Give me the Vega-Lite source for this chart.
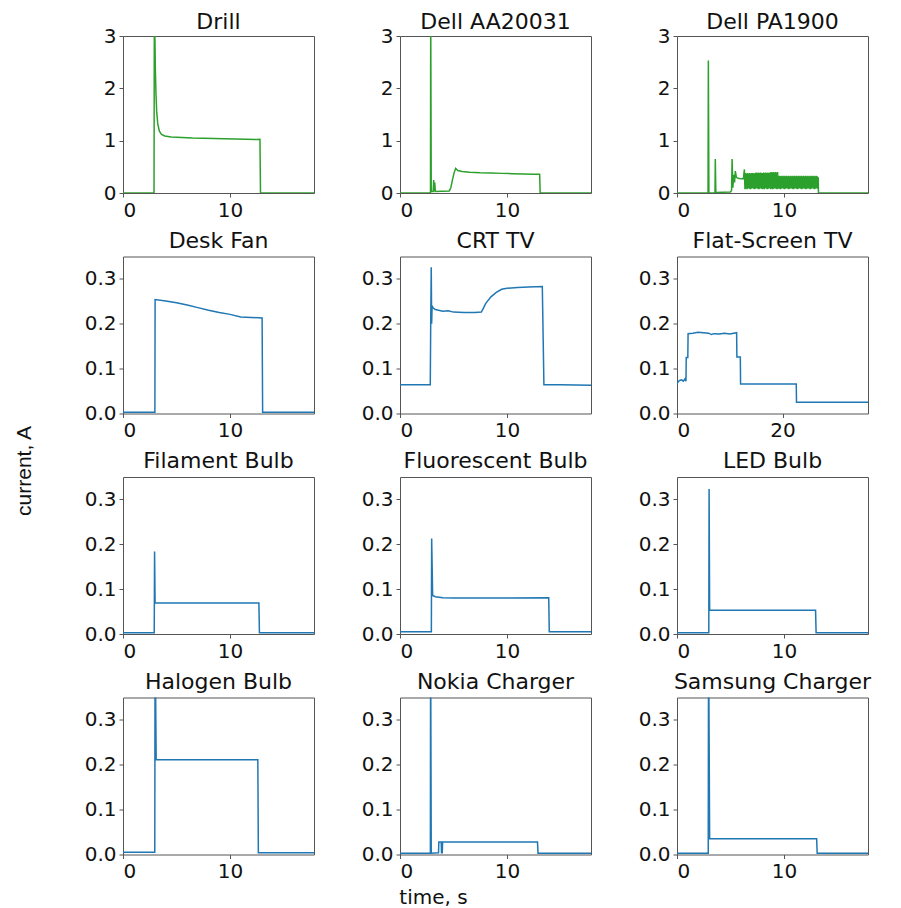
{
  "$schema": "https://vega.github.io/schema/vega-lite/v6.json",
  "padding": {"left": 12, "top": 10, "right": 0, "bottom": 3},
  "background": "white",
  "config": {
    "font": "DejaVu Sans",
    "view": {"stroke": "#555", "strokeWidth": 1},
    "title": {"font": "DejaVu Sans", "fontSize": 22, "fontWeight": "normal", "color": "#111", "offset": 0},
    "axis": {"grid": false, "domain": false, "labelFont": "DejaVu Sans", "labelFontSize": 20, "labelColor": "#111", "tickColor": "#555", "tickSize": 4, "labelPadding": 3, "titleFont": "DejaVu Sans", "titleFontWeight": "normal", "titleColor": "#111"}
  },
  "datasets": {
    "drill": [{"t":0,"i":0},{"t":2.9,"i":0},{"t":2.93,"i":3.6},{"t":2.98,"i":3.0},{"t":3.02,"i":2.4},{"t":3.08,"i":1.9},{"t":3.15,"i":1.55},{"t":3.25,"i":1.32},{"t":3.4,"i":1.18},{"t":3.6,"i":1.12},{"t":3.9,"i":1.09},{"t":4.5,"i":1.07},{"t":5.5,"i":1.06},{"t":6.5,"i":1.05},{"t":7.5,"i":1.045},{"t":8.5,"i":1.04},{"t":9.5,"i":1.035},{"t":10.5,"i":1.03},{"t":11.5,"i":1.025},{"t":12.5,"i":1.02},{"t":12.8,"i":1.025},{"t":12.85,"i":0},{"t":17.85,"i":0}],
    "dellaa": [{"t":0,"i":0},{"t":2.85,"i":0},{"t":2.87,"i":3.5},{"t":2.92,"i":0.03},{"t":3.1,"i":0.03},{"t":3.15,"i":0.25},{"t":3.2,"i":0.03},{"t":3.25,"i":0.2},{"t":3.3,"i":0.03},{"t":4.6,"i":0.04},{"t":4.75,"i":0.1},{"t":4.9,"i":0.25},{"t":5.05,"i":0.38},{"t":5.2,"i":0.47},{"t":5.4,"i":0.43},{"t":5.8,"i":0.41},{"t":6.5,"i":0.395},{"t":7.5,"i":0.385},{"t":8.5,"i":0.38},{"t":9.5,"i":0.375},{"t":10.5,"i":0.37},{"t":11.5,"i":0.365},{"t":12.5,"i":0.36},{"t":13.05,"i":0.36},{"t":13.1,"i":0},{"t":17.85,"i":0}],
    "dellpa": [{"t":0,"i":0},{"t":2.9,"i":0},{"t":2.93,"i":2.53},{"t":2.98,"i":0},{"t":3.55,"i":0},{"t":3.58,"i":0.65},{"t":3.63,"i":0.01},{"t":5.0,"i":0.02},{"t":5.1,"i":0.05},{"t":5.15,"i":0.65},{"t":5.22,"i":0.1},{"t":5.3,"i":0.35},{"t":5.38,"i":0.2},{"t":5.45,"i":0.42},{"t":5.55,"i":0.3},{"t":5.7,"i":0.28},{"t":6.0,"i":0.27},{"t":6.2,"i":0.27},{"t":6.3,"i":0.45},
      {"t":6.35,"i":0.07},{"t":6.4,"i":0.38},{"t":6.45,"i":0.08},{"t":6.5,"i":0.37},{"t":6.55,"i":0.07},{"t":6.6,"i":0.38},{"t":6.65,"i":0.09},{"t":6.7,"i":0.37},{"t":6.75,"i":0.08},{"t":6.8,"i":0.38},{"t":6.85,"i":0.07},{"t":6.9,"i":0.37},{"t":6.95,"i":0.08},{"t":7.0,"i":0.38},{"t":7.05,"i":0.09},{"t":7.1,"i":0.38},{"t":7.15,"i":0.08},{"t":7.2,"i":0.37},{"t":7.25,"i":0.07},{"t":7.3,"i":0.38},{"t":7.35,"i":0.08},{"t":7.4,"i":0.39},{"t":7.45,"i":0.09},{"t":7.5,"i":0.38},{"t":7.55,"i":0.08},{"t":7.6,"i":0.39},{"t":7.65,"i":0.07},{"t":7.7,"i":0.38},{"t":7.75,"i":0.08},{"t":7.8,"i":0.39},{"t":7.85,"i":0.09},{"t":7.9,"i":0.38},{"t":7.95,"i":0.07},{"t":8.0,"i":0.38},{"t":8.05,"i":0.08},{"t":8.1,"i":0.39},{"t":8.15,"i":0.07},{"t":8.2,"i":0.38},{"t":8.25,"i":0.09},{"t":8.3,"i":0.39},{"t":8.35,"i":0.08},{"t":8.4,"i":0.38},{"t":8.45,"i":0.07},{"t":8.5,"i":0.39},{"t":8.55,"i":0.08},{"t":8.6,"i":0.38},{"t":8.65,"i":0.09},{"t":8.7,"i":0.39},{"t":8.75,"i":0.07},{"t":8.8,"i":0.4},{"t":8.85,"i":0.08},{"t":8.9,"i":0.39},{"t":8.95,"i":0.07},{"t":9.0,"i":0.4},{"t":9.05,"i":0.08},{"t":9.1,"i":0.39},{"t":9.15,"i":0.09},{"t":9.2,"i":0.4},{"t":9.25,"i":0.08},{"t":9.3,"i":0.39},{"t":9.35,"i":0.07},{"t":9.4,"i":0.4},{"t":9.45,"i":0.08},
      {"t":9.5,"i":0.33},{"t":9.55,"i":0.08},{"t":9.6,"i":0.33},{"t":9.65,"i":0.07},{"t":9.7,"i":0.32},{"t":9.75,"i":0.08},{"t":9.8,"i":0.33},{"t":9.85,"i":0.09},{"t":9.9,"i":0.32},{"t":9.95,"i":0.08},{"t":10.0,"i":0.33},{"t":10.05,"i":0.07},{"t":10.1,"i":0.32},{"t":10.15,"i":0.08},{"t":10.2,"i":0.33},{"t":10.25,"i":0.09},{"t":10.3,"i":0.32},{"t":10.35,"i":0.08},{"t":10.4,"i":0.33},{"t":10.45,"i":0.07},{"t":10.5,"i":0.32},{"t":10.55,"i":0.08},{"t":10.6,"i":0.33},{"t":10.65,"i":0.09},{"t":10.7,"i":0.32},{"t":10.75,"i":0.08},{"t":10.8,"i":0.33},{"t":10.85,"i":0.07},{"t":10.9,"i":0.32},{"t":10.95,"i":0.08},{"t":11.0,"i":0.33},{"t":11.05,"i":0.09},{"t":11.1,"i":0.32},{"t":11.15,"i":0.08},{"t":11.2,"i":0.33},{"t":11.25,"i":0.07},{"t":11.3,"i":0.32},{"t":11.35,"i":0.08},{"t":11.4,"i":0.33},{"t":11.45,"i":0.09},{"t":11.5,"i":0.32},{"t":11.55,"i":0.08},{"t":11.6,"i":0.33},{"t":11.65,"i":0.07},{"t":11.7,"i":0.32},{"t":11.75,"i":0.08},{"t":11.8,"i":0.33},{"t":11.85,"i":0.09},{"t":11.9,"i":0.32},{"t":11.95,"i":0.08},{"t":12.0,"i":0.33},{"t":12.05,"i":0.07},{"t":12.1,"i":0.32},{"t":12.15,"i":0.08},{"t":12.2,"i":0.33},{"t":12.25,"i":0.09},{"t":12.3,"i":0.32},{"t":12.35,"i":0.08},{"t":12.4,"i":0.33},{"t":12.45,"i":0.07},{"t":12.5,"i":0.32},{"t":12.55,"i":0.08},{"t":12.6,"i":0.33},{"t":12.65,"i":0.09},{"t":12.7,"i":0.32},{"t":12.75,"i":0.08},{"t":12.8,"i":0.33},{"t":12.85,"i":0.07},{"t":12.9,"i":0.32},{"t":12.95,"i":0.08},{"t":13.0,"i":0.33},{"t":13.05,"i":0.09},{"t":13.1,"i":0.32},{"t":13.15,"i":0.08},{"t":13.2,"i":0.3},{"t":13.22,"i":0},{"t":17.85,"i":0}],
    "fan": [{"t":0,"i":0.003},{"t":2.98,"i":0.003},{"t":3.0,"i":0.254},{"t":4,"i":0.251},{"t":5,"i":0.247},{"t":6,"i":0.242},{"t":7,"i":0.236},{"t":8,"i":0.23},{"t":9,"i":0.225},{"t":10,"i":0.221},{"t":11,"i":0.215},{"t":12,"i":0.214},{"t":13.0,"i":0.213},{"t":13.05,"i":0.003},{"t":17.85,"i":0.003}],
    "crt": [{"t":0,"i":0.064},{"t":2.83,"i":0.064},{"t":2.87,"i":0.2},{"t":2.92,"i":0.326},{"t":2.96,"i":0.2},{"t":3.0,"i":0.24},{"t":3.1,"i":0.235},{"t":3.3,"i":0.232},{"t":4,"i":0.228},{"t":4.5,"i":0.229},{"t":5,"i":0.226},{"t":6,"i":0.225},{"t":7,"i":0.225},{"t":7.6,"i":0.226},{"t":7.8,"i":0.235},{"t":8.0,"i":0.245},{"t":8.5,"i":0.26},{"t":9,"i":0.27},{"t":9.5,"i":0.277},{"t":10,"i":0.279},{"t":11,"i":0.281},{"t":12,"i":0.282},{"t":13.3,"i":0.283},{"t":13.45,"i":0.064},{"t":15,"i":0.064},{"t":17.85,"i":0.063}],
    "flat": [{"t":0,"i":0.066},{"t":0.3,"i":0.072},{"t":0.6,"i":0.074},{"t":0.9,"i":0.075},{"t":1.2,"i":0.072},{"t":1.5,"i":0.077},{"t":1.7,"i":0.072},{"t":1.75,"i":0.125},{"t":2.05,"i":0.125},{"t":2.1,"i":0.178},{"t":3,"i":0.179},{"t":4,"i":0.181},{"t":5,"i":0.18},{"t":6,"i":0.179},{"t":6.5,"i":0.176},{"t":7,"i":0.178},{"t":8,"i":0.177},{"t":9,"i":0.179},{"t":10,"i":0.177},{"t":11.3,"i":0.18},{"t":11.35,"i":0.126},{"t":12.0,"i":0.126},{"t":12.05,"i":0.066},{"t":22.6,"i":0.066},{"t":22.65,"i":0.025},{"t":36.2,"i":0.025}],
    "filament": [{"t":0,"i":0.003},{"t":2.92,"i":0.003},{"t":2.95,"i":0.184},{"t":3.0,"i":0.069},{"t":12.7,"i":0.069},{"t":12.75,"i":0.003},{"t":17.85,"i":0.003}],
    "fluor": [{"t":0,"i":0.005},{"t":2.93,"i":0.005},{"t":2.96,"i":0.213},{"t":3.05,"i":0.086},{"t":3.3,"i":0.083},{"t":4,"i":0.081},{"t":5,"i":0.08},{"t":8,"i":0.08},{"t":13.9,"i":0.081},{"t":13.95,"i":0.005},{"t":17.85,"i":0.005}],
    "led": [{"t":0,"i":0.003},{"t":2.97,"i":0.003},{"t":3.0,"i":0.323},{"t":3.05,"i":0.053},{"t":12.95,"i":0.053},{"t":13.0,"i":0.003},{"t":17.85,"i":0.003}],
    "halogen": [{"t":0,"i":0.005},{"t":2.97,"i":0.005},{"t":3.0,"i":0.5},{"t":3.1,"i":0.212},{"t":12.6,"i":0.211},{"t":12.65,"i":0.004},{"t":17.85,"i":0.004}],
    "nokia": [{"t":0,"i":0.003},{"t":2.84,"i":0.003},{"t":2.86,"i":0.5},{"t":2.92,"i":0.003},{"t":3.6,"i":0.004},{"t":3.63,"i":0.028},{"t":3.85,"i":0.028},{"t":3.88,"i":0.004},{"t":3.95,"i":0.004},{"t":3.98,"i":0.028},{"t":12.85,"i":0.028},{"t":12.9,"i":0.003},{"t":17.85,"i":0.003}],
    "samsung": [{"t":0,"i":0.003},{"t":2.92,"i":0.003},{"t":2.95,"i":0.5},{"t":3.05,"i":0.035},{"t":13.05,"i":0.035},{"t":13.1,"i":0.003},{"t":17.85,"i":0.003}]
  },
  "columns": 3,
  "spacing": {"row": 63.5, "column": 86},
  "bounds": "flush",
  "concat": [
    {"title": {"text": "Drill", "offset": -8}, "width": 191, "height": 157, "data": {"name": "drill"}, "mark": {"type": "line", "color": "#2ca02c", "strokeWidth": 1.5, "clip": true},
     "encoding": {"x": {"field": "t", "type": "quantitative", "scale": {"domain": [0, 17.85], "nice": false, "zero": false}, "axis": {"values": [0, 10], "title": null}},
                  "y": {"field": "i", "type": "quantitative", "scale": {"domain": [0, 3], "nice": false}, "axis": {"values": [0, 1, 2, 3], "format": "d", "title": null}}}},
    {"title": {"text": "Dell AA20031", "offset": -8}, "width": 191, "height": 157, "data": {"name": "dellaa"}, "mark": {"type": "line", "color": "#2ca02c", "strokeWidth": 1.5, "clip": true},
     "encoding": {"x": {"field": "t", "type": "quantitative", "scale": {"domain": [0, 17.85], "nice": false, "zero": false}, "axis": {"values": [0, 10], "title": null}},
                  "y": {"field": "i", "type": "quantitative", "scale": {"domain": [0, 3], "nice": false}, "axis": {"values": [0, 1, 2, 3], "format": "d", "title": null}}}},
    {"title": {"text": "Dell PA1900", "offset": -8}, "width": 191, "height": 157, "data": {"name": "dellpa"}, "mark": {"type": "line", "color": "#2ca02c", "strokeWidth": 1.5, "clip": true},
     "encoding": {"x": {"field": "t", "type": "quantitative", "scale": {"domain": [0, 17.85], "nice": false, "zero": false}, "axis": {"values": [0, 10], "title": null}},
                  "y": {"field": "i", "type": "quantitative", "scale": {"domain": [0, 3], "nice": false}, "axis": {"values": [0, 1, 2, 3], "format": "d", "title": null}}}},
    {"title": "Desk Fan", "width": 191, "height": 157, "data": {"name": "fan"}, "mark": {"type": "line", "color": "#1f77b4", "strokeWidth": 1.5, "clip": true},
     "encoding": {"x": {"field": "t", "type": "quantitative", "scale": {"domain": [0, 17.85], "nice": false, "zero": false}, "axis": {"values": [0, 10], "title": null}},
                  "y": {"field": "i", "type": "quantitative", "scale": {"domain": [0, 0.35], "nice": false}, "axis": {"values": [0, 0.1, 0.2, 0.3], "format": ".1f", "title": "current, A", "titleFont": "Liberation Sans", "titleFontSize": 21, "titleX": -99, "titleY": 214, "titleAlign": "center", "titleBaseline": "middle", "titleAngle": 270}}}},
    {"title": "CRT TV", "width": 191, "height": 157, "data": {"name": "crt"}, "mark": {"type": "line", "color": "#1f77b4", "strokeWidth": 1.5, "clip": true},
     "encoding": {"x": {"field": "t", "type": "quantitative", "scale": {"domain": [0, 17.85], "nice": false, "zero": false}, "axis": {"values": [0, 10], "title": null}},
                  "y": {"field": "i", "type": "quantitative", "scale": {"domain": [0, 0.35], "nice": false}, "axis": {"values": [0, 0.1, 0.2, 0.3], "format": ".1f", "title": null}}}},
    {"title": "Flat-Screen TV", "width": 191, "height": 157, "data": {"name": "flat"}, "mark": {"type": "line", "color": "#1f77b4", "strokeWidth": 1.5, "clip": true},
     "encoding": {"x": {"field": "t", "type": "quantitative", "scale": {"domain": [0, 36.2], "nice": false, "zero": false}, "axis": {"values": [0, 20], "title": null}},
                  "y": {"field": "i", "type": "quantitative", "scale": {"domain": [0, 0.35], "nice": false}, "axis": {"values": [0, 0.1, 0.2, 0.3], "format": ".1f", "title": null}}}},
    {"title": "Filament Bulb", "width": 191, "height": 157, "data": {"name": "filament"}, "mark": {"type": "line", "color": "#1f77b4", "strokeWidth": 1.5, "clip": true},
     "encoding": {"x": {"field": "t", "type": "quantitative", "scale": {"domain": [0, 17.85], "nice": false, "zero": false}, "axis": {"values": [0, 10], "title": null}},
                  "y": {"field": "i", "type": "quantitative", "scale": {"domain": [0, 0.35], "nice": false}, "axis": {"values": [0, 0.1, 0.2, 0.3], "format": ".1f", "title": null}}}},
    {"title": "Fluorescent Bulb", "width": 191, "height": 157, "data": {"name": "fluor"}, "mark": {"type": "line", "color": "#1f77b4", "strokeWidth": 1.5, "clip": true},
     "encoding": {"x": {"field": "t", "type": "quantitative", "scale": {"domain": [0, 17.85], "nice": false, "zero": false}, "axis": {"values": [0, 10], "title": null}},
                  "y": {"field": "i", "type": "quantitative", "scale": {"domain": [0, 0.35], "nice": false}, "axis": {"values": [0, 0.1, 0.2, 0.3], "format": ".1f", "title": null}}}},
    {"title": "LED Bulb", "width": 191, "height": 157, "data": {"name": "led"}, "mark": {"type": "line", "color": "#1f77b4", "strokeWidth": 1.5, "clip": true},
     "encoding": {"x": {"field": "t", "type": "quantitative", "scale": {"domain": [0, 17.85], "nice": false, "zero": false}, "axis": {"values": [0, 10], "title": null}},
                  "y": {"field": "i", "type": "quantitative", "scale": {"domain": [0, 0.35], "nice": false}, "axis": {"values": [0, 0.1, 0.2, 0.3], "format": ".1f", "title": null}}}},
    {"title": "Halogen Bulb", "width": 191, "height": 157, "data": {"name": "halogen"}, "mark": {"type": "line", "color": "#1f77b4", "strokeWidth": 1.5, "clip": true},
     "encoding": {"x": {"field": "t", "type": "quantitative", "scale": {"domain": [0, 17.85], "nice": false, "zero": false}, "axis": {"values": [0, 10], "title": null}},
                  "y": {"field": "i", "type": "quantitative", "scale": {"domain": [0, 0.35], "nice": false}, "axis": {"values": [0, 0.1, 0.2, 0.3], "format": ".1f", "title": null}}}},
    {"title": "Nokia Charger", "width": 191, "height": 157, "data": {"name": "nokia"}, "mark": {"type": "line", "color": "#1f77b4", "strokeWidth": 1.5, "clip": true},
     "encoding": {"x": {"field": "t", "type": "quantitative", "scale": {"domain": [0, 17.85], "nice": false, "zero": false}, "axis": {"values": [0, 10], "title": "time, s", "titleFontSize": 20, "titleX": 33, "titleY": 43, "titleAlign": "center", "titleBaseline": "middle"}},
                  "y": {"field": "i", "type": "quantitative", "scale": {"domain": [0, 0.35], "nice": false}, "axis": {"values": [0, 0.1, 0.2, 0.3], "format": ".1f", "title": null}}}},
    {"title": "Samsung Charger", "width": 191, "height": 157, "data": {"name": "samsung"}, "mark": {"type": "line", "color": "#1f77b4", "strokeWidth": 1.5, "clip": true},
     "encoding": {"x": {"field": "t", "type": "quantitative", "scale": {"domain": [0, 17.85], "nice": false, "zero": false}, "axis": {"values": [0, 10], "title": null}},
                  "y": {"field": "i", "type": "quantitative", "scale": {"domain": [0, 0.35], "nice": false}, "axis": {"values": [0, 0.1, 0.2, 0.3], "format": ".1f", "title": null}}}}
  ]
}
